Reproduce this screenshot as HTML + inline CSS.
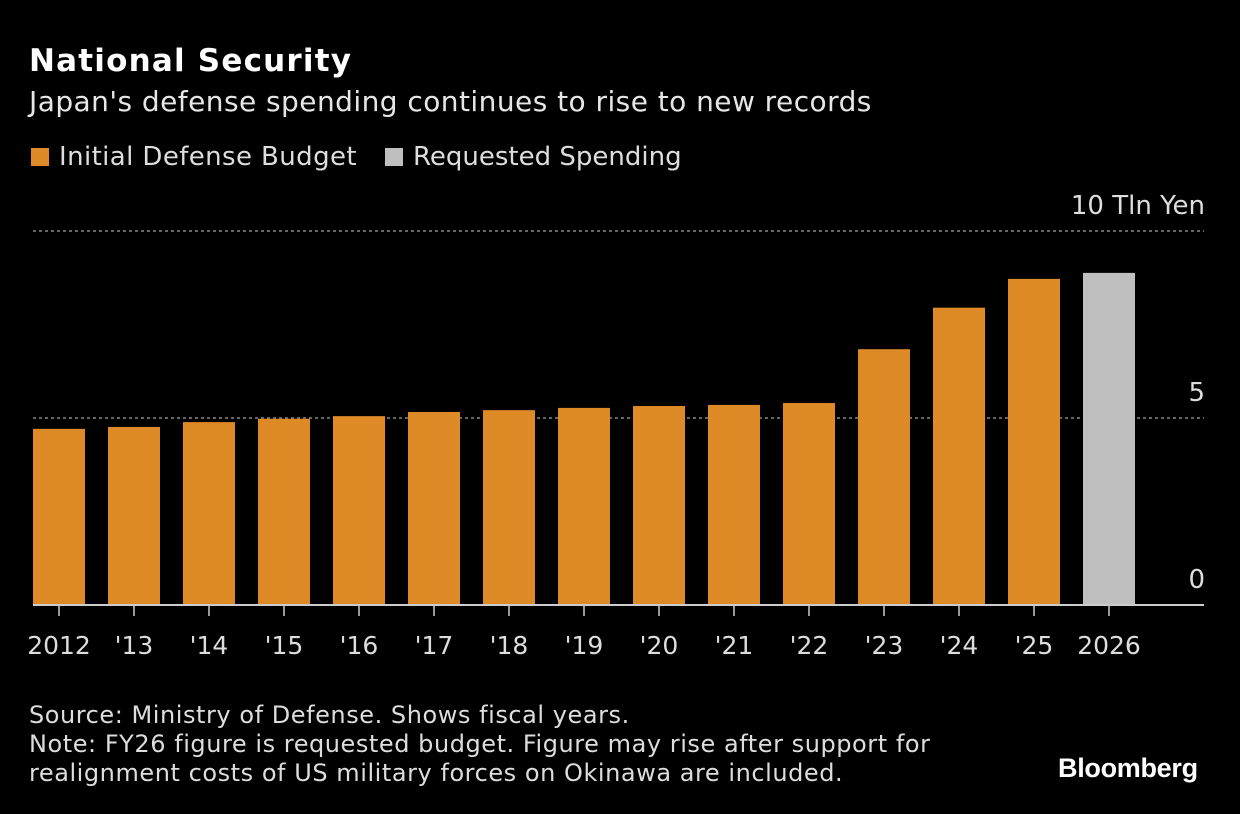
<!DOCTYPE html>
<html><head><meta charset="utf-8"><style>
body{margin:0;background:#000;width:1240px;height:814px;overflow:hidden;font-family:"DejaVu Sans","Liberation Sans",sans-serif;color:#e6e6e6}
.t{position:absolute;white-space:nowrap}
</style></head><body>
<div class="t" style="left:29px;top:43px;font-size:31px;font-weight:bold;color:#fff;font-family:'DejaVu Sans',sans-serif;letter-spacing:1.2px">National Security</div>
<div class="t" style="left:29px;top:85px;font-size:28px;letter-spacing:0.45px">Japan's defense spending continues to rise to new records</div>
<div class="t" style="left:31px;top:142px;font-size:26px;color:#ddd;letter-spacing:0.4px"><span style="display:inline-block;width:18px;height:18px;background:#DD8A27;margin-right:10px;vertical-align:-1px"></span>Initial Defense Budget</div>
<div class="t" style="left:385px;top:142px;font-size:26px;color:#ddd"><span style="display:inline-block;width:18px;height:18px;background:#BFBFBF;margin-right:10px;vertical-align:-1px"></span>Requested Spending</div>
<svg id="c" width="1240" height="814" style="position:absolute;left:0;top:0"></svg>
<div class="t" style="left:29px;top:701px;font-size:24px;line-height:29px;color:#ddd;letter-spacing:0.55px">Source: Ministry of Defense. Shows fiscal years.<br>Note: FY26 figure is requested budget. Figure may rise after support for<br>realignment costs of US military forces on Okinawa are included.</div>
<div class="t" style="left:1058px;top:753px;font-size:27px;font-weight:bold;color:#fff;font-family:'Liberation Sans',sans-serif;letter-spacing:-0.3px">Bloomberg</div>
<script>
const categories=["2012","'13","'14","'15","'16","'17","'18","'19","'20","'21","'22","'23","'24","'25","2026"];
const values=[4.71,4.76,4.89,4.98,5.05,5.16,5.21,5.27,5.32,5.35,5.40,6.84,7.95,8.72,8.88];
const requested=[false,false,false,false,false,false,false,false,false,false,false,false,false,false,true];
const yTicks=[0,5,10];
const yTickLabels=["0","5","10 Tln Yen"];
const svg=document.getElementById('c');const NS="http://www.w3.org/2000/svg";
const y0=605,pxPer=37.4;
const y=v=>y0-v*pxPer;
const x=i=>33+i*75;
function mk(t,a){const e=document.createElementNS(NS,t);for(const k in a)e.setAttribute(k,a[k]);svg.appendChild(e);return e;}
yTicks.forEach((v,i)=>{
 if(v>0){const g=mk('line',{x1:33,x2:1204,y1:y(v),y2:y(v),stroke:'#888','stroke-dasharray':'3,3','stroke-width':1.5});
 
 }
 const t=mk('text',{x:1205,y:y(v)-17,'text-anchor':'end',fill:'#ddd','font-size':26,'font-family':'DejaVu Sans, sans-serif'});
 t.textContent=yTickLabels[i];
 
 
});
values.forEach((v,i)=>{
 const r=mk('rect',{x:x(i),y:y(v),width:52,height:y0-y(v),fill:requested[i]?'#BFBFBF':'#DD8A27'});
 
 
 const tk=mk('line',{x1:x(i)+26,x2:x(i)+26,y1:y0,y2:y0+11,stroke:'#ccc','stroke-width':1.5});
 
 
 const t=mk('text',{x:x(i)+26,y:654,'text-anchor':'middle',fill:'#ddd','font-size':25,'font-family':'DejaVu Sans, sans-serif'});
 t.textContent=categories[i];
 
 
});
const b=mk('line',{x1:33,x2:1204,y1:y0,y2:y0,stroke:'#ccc','stroke-width':2});


</script>
</body></html>
